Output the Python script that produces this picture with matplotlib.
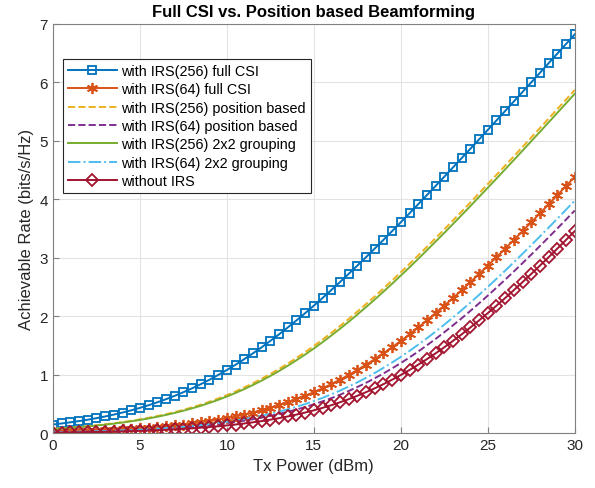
import numpy as np
import matplotlib
matplotlib.use("Agg")
import matplotlib.pyplot as plt

plt.rcParams['font.family'] = ['Liberation Sans', 'DejaVu Sans']

# Tx power axis, 0..30 dBm in 0.5 dB steps
tx_power = np.arange(0, 30.5, 0.5)

irs256_full = [0.153, 0.171, 0.191, 0.212, 0.236, 0.262, 0.291, 0.323, 0.358, 0.396,
               0.438, 0.483, 0.533, 0.586, 0.644, 0.706, 0.772, 0.843, 0.919, 1.000,
               1.085, 1.176, 1.271, 1.370, 1.474, 1.583, 1.695, 1.812, 1.933, 2.057,
               2.185, 2.316, 2.451, 2.588, 2.728, 2.870, 3.014, 3.161, 3.309, 3.459,
               3.611, 3.764, 3.919, 4.075, 4.231, 4.389, 4.548, 4.707, 4.867, 5.028,
               5.189, 5.351, 5.513, 5.676, 5.839, 6.002, 6.166, 6.330, 6.494, 6.658,
               6.823]

irs64_full = [0.029, 0.032, 0.036, 0.040, 0.045, 0.050, 0.056, 0.063, 0.071, 0.079,
              0.088, 0.099, 0.110, 0.123, 0.138, 0.153, 0.171, 0.191, 0.212, 0.236,
              0.262, 0.291, 0.323, 0.358, 0.396, 0.438, 0.483, 0.533, 0.586, 0.644,
              0.706, 0.772, 0.843, 0.919, 1.000, 1.085, 1.176, 1.271, 1.370, 1.474,
              1.583, 1.695, 1.812, 1.933, 2.057, 2.185, 2.316, 2.451, 2.588, 2.728,
              2.870, 3.014, 3.161, 3.309, 3.459, 3.611, 3.764, 3.919, 4.075, 4.231,
              4.389]

irs256_pos = [0.081, 0.090, 0.101, 0.113, 0.126, 0.141, 0.157, 0.175, 0.195, 0.217,
              0.241, 0.268, 0.298, 0.330, 0.366, 0.405, 0.447, 0.493, 0.543, 0.598,
              0.656, 0.719, 0.787, 0.859, 0.936, 1.017, 1.103, 1.195, 1.291, 1.391,
              1.496, 1.605, 1.719, 1.836, 1.958, 2.083, 2.212, 2.343, 2.478, 2.616,
              2.756, 2.899, 3.044, 3.191, 3.339, 3.490, 3.642, 3.795, 3.950, 4.106,
              4.263, 4.421, 4.580, 4.739, 4.899, 5.060, 5.222, 5.383, 5.546, 5.708,
              5.872]

irs64_pos = [0.019, 0.021, 0.024, 0.026, 0.030, 0.033, 0.037, 0.042, 0.047, 0.052,
             0.058, 0.065, 0.073, 0.082, 0.091, 0.102, 0.114, 0.127, 0.142, 0.159,
             0.177, 0.197, 0.219, 0.244, 0.271, 0.301, 0.334, 0.370, 0.409, 0.452,
             0.498, 0.549, 0.603, 0.662, 0.726, 0.794, 0.866, 0.944, 1.026, 1.113,
             1.204, 1.300, 1.401, 1.507, 1.617, 1.731, 1.849, 1.970, 2.096, 2.225,
             2.357, 2.492, 2.630, 2.770, 2.913, 3.058, 3.205, 3.354, 3.505, 3.657,
             3.811]

irs256_group = [0.077, 0.086, 0.097, 0.108, 0.121, 0.135, 0.150, 0.168, 0.187, 0.208,
                0.231, 0.257, 0.286, 0.317, 0.351, 0.389, 0.430, 0.474, 0.523, 0.575,
                0.632, 0.693, 0.759, 0.829, 0.904, 0.984, 1.068, 1.158, 1.252, 1.350,
                1.453, 1.561, 1.673, 1.789, 1.909, 2.033, 2.160, 2.290, 2.424, 2.560,
                2.700, 2.841, 2.985, 3.132, 3.280, 3.429, 3.581, 3.734, 3.888, 4.044,
                4.200, 4.357, 4.516, 4.675, 4.835, 4.996, 5.157, 5.319, 5.481, 5.643,
                5.806]

irs64_group = [0.021, 0.024, 0.027, 0.030, 0.033, 0.038, 0.042, 0.047, 0.053, 0.059,
               0.066, 0.074, 0.083, 0.092, 0.103, 0.115, 0.129, 0.144, 0.160, 0.179,
               0.199, 0.222, 0.247, 0.274, 0.304, 0.337, 0.374, 0.413, 0.456, 0.503,
               0.554, 0.609, 0.669, 0.732, 0.801, 0.874, 0.952, 1.034, 1.122, 1.214,
               1.310, 1.412, 1.518, 1.628, 1.742, 1.861, 1.983, 2.109, 2.238, 2.370,
               2.506, 2.644, 2.784, 2.928, 3.073, 3.220, 3.369, 3.520, 3.672, 3.826,
               3.981]

no_irs = [0.014, 0.016, 0.018, 0.020, 0.023, 0.025, 0.029, 0.032, 0.036, 0.040,
          0.045, 0.050, 0.056, 0.063, 0.071, 0.079, 0.088, 0.099, 0.110, 0.123,
          0.138, 0.153, 0.171, 0.191, 0.212, 0.236, 0.262, 0.291, 0.323, 0.358,
          0.396, 0.438, 0.483, 0.533, 0.586, 0.644, 0.706, 0.772, 0.843, 0.919,
          1.000, 1.085, 1.176, 1.271, 1.370, 1.474, 1.583, 1.695, 1.812, 1.933,
          2.057, 2.185, 2.316, 2.451, 2.588, 2.728, 2.870, 3.014, 3.161, 3.309,
          3.459]

fig = plt.figure(figsize=(5.95, 4.89), dpi=100)
ax = fig.add_axes([0.089, 0.1115, 0.877, 0.8375])

ax.plot(tx_power, irs256_full, '-s', color='#0072BD', lw=1.4, ms=6, mew=1.3,
        mfc='none', label='with IRS(256) full CSI')
ax.plot(tx_power, irs64_full, '-', marker=(6, 2, 0), color='#D95319', lw=1.4,
        ms=8, mew=1.3, label='with IRS(64) full CSI')
ax.plot(tx_power, irs256_pos, '--', color='#EDB120', lw=1.4,
        label='with IRS(256) position based')
ax.plot(tx_power, irs64_pos, '--', color='#7E2F8E', lw=1.4,
        label='with IRS(64) position based')
ax.plot(tx_power, irs256_group, '-', color='#77AC30', lw=1.4,
        label='with IRS(256) 2x2 grouping')
ax.plot(tx_power, irs64_group, '-.', color='#4DBEEE', lw=1.4,
        label='with IRS(64) 2x2 grouping')
ax.plot(tx_power, no_irs, '-D', color='#A2142F', lw=1.4, ms=6.5, mew=1.3,
        mfc='none', label='without IRS')

ax.set_xlim(0, 30)
ax.set_ylim(0, 7)
ax.set_xticks(range(0, 31, 5))
ax.set_yticks(range(0, 8))
ax.grid(True, color='#e3e3e3', lw=0.8)
ax.set_axisbelow(True)
ax.tick_params(direction='in', labelsize=11, labelcolor='#262626',
               color='#808080', length=4, top=False, right=False)
for s in ax.spines.values():
    s.set_color('#808080')
    s.set_linewidth(0.8)

ax.set_xlabel('Tx Power (dBm)', fontsize=12, color='#262626')
ax.set_ylabel('Achievable Rate (bits/s/Hz)', fontsize=12, color='#262626')
ax.set_title('Full CSI vs. Position based Beamforming', fontsize=12,
             fontweight='bold', pad=6)

leg = ax.legend(loc='upper left', bbox_to_anchor=(0.019, 0.9145), fontsize=10.4,
                handlelength=3.4, fancybox=False, framealpha=1,
                edgecolor='#262626', borderpad=0.35, labelspacing=0.3,
                handletextpad=0.3, borderaxespad=0)
leg.get_frame().set_linewidth(0.8)

fig.savefig('out.png', dpi=100)
